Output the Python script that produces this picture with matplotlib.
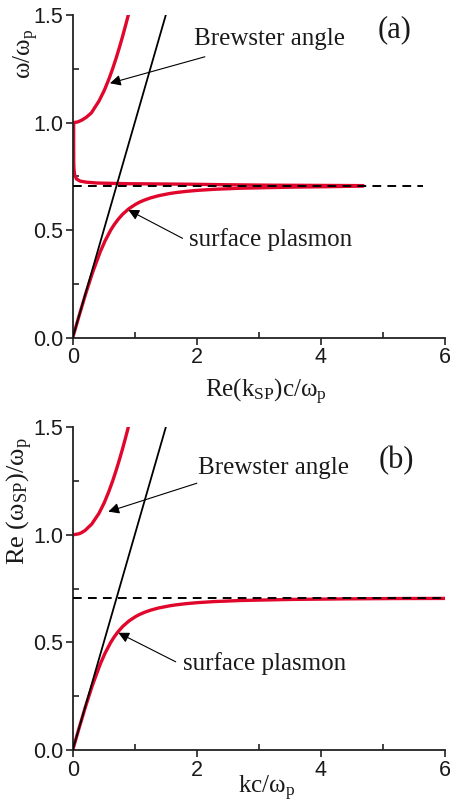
import matplotlib
matplotlib.use("Agg")
import matplotlib.pyplot as plt
from matplotlib.ticker import MultipleLocator

plt.rcParams['mathtext.fontset'] = 'custom'
plt.rcParams['mathtext.rm'] = 'Liberation Serif'
plt.rcParams['mathtext.it'] = 'Liberation Serif:italic'

# ---------------- data ----------------
# panel (a)
upper_a_x = [0.015, 0.08, 0.15, 0.22, 0.30, 0.423, 0.509, 0.580, 0.643, 0.700, 0.753, 0.803, 0.850, 0.896]
upper_a_y = [1.0, 1.003, 1.012, 1.025, 1.045, 1.10, 1.15, 1.20, 1.25, 1.30, 1.35, 1.40, 1.45, 1.50]

back_a_x = [0.015, 0.015, 0.016, 0.02, 0.03, 0.06, 0.12, 0.22, 0.40, 0.87, 1.50, 1.90, 2.50, 3.20, 4.00, 4.68]
back_a_y = [1.0, 0.90, 0.82, 0.785, 0.758, 0.738, 0.728, 0.723, 0.719, 0.716, 0.7145, 0.7135, 0.711, 0.709, 0.708, 0.707]

lower_a_x = [0, 0.1005, 0.2043, 0.316, 0.4446, 0.521, 0.612, 0.667, 0.731, 0.808, 0.907, 1.012, 1.077,
             1.157, 1.255, 1.382, 1.556, 1.672, 1.818, 2.012, 2.284, 2.712, 3.535, 4.10, 4.68]
lower_a_y = [0, 0.1, 0.2, 0.3, 0.4, 0.45, 0.5, 0.525, 0.55, 0.575, 0.6, 0.62, 0.63,
             0.64, 0.65, 0.66, 0.67, 0.675, 0.68, 0.685, 0.69, 0.695, 0.70, 0.702, 0.705]

# panel (b)
upper_b_x = [0, 0.0997, 0.14, 0.197, 0.306, 0.423, 0.509, 0.580, 0.643, 0.700, 0.753, 0.803, 0.850, 0.896]
upper_b_y = [1.0, 1.005, 1.01, 1.02, 1.05, 1.10, 1.15, 1.20, 1.25, 1.30, 1.35, 1.40, 1.45, 1.50]

lower_b_x = [0, 0.1005, 0.2043, 0.316, 0.4446, 0.521, 0.612, 0.667, 0.731, 0.808, 0.907, 1.012, 1.077,
             1.157, 1.255, 1.382, 1.556, 1.672, 1.818, 2.012, 2.284, 2.712, 3.535, 4.388, 5.20, 6.0]
lower_b_y = [0, 0.1, 0.2, 0.3, 0.4, 0.45, 0.5, 0.525, 0.55, 0.575, 0.6, 0.62, 0.63,
             0.64, 0.65, 0.66, 0.67, 0.675, 0.68, 0.685, 0.69, 0.695, 0.70, 0.7025, 0.704, 0.7046]

light_x = [0, 1.5]
light_y = [0, 1.5]

asym_y = 0.707
asym_a_x = [0, 5.65]
asym_b_x = [0, 6.0]

xticks = [0, 2, 4, 6]
yticks = [0.0, 0.5, 1.0, 1.5]

RED = '#E1062C'
TXT = '#1a1a1a'
SERIF = ['Liberation Serif', 'DejaVu Serif']
SANS = ['Liberation Sans', 'DejaVu Sans']

fig = plt.figure(figsize=(4.5, 8.05), dpi=100)
ax_a = fig.add_axes([0.1616, 0.5805, 0.8273, 0.4008])
ax_b = fig.add_axes([0.1616, 0.0683, 0.8273, 0.4009])


def style(ax):
    ax.set_xlim(0, 6)
    ax.set_ylim(0, 1.5)
    for s in ['top', 'right']:
        ax.spines[s].set_visible(False)
    for s in ['left', 'bottom']:
        ax.spines[s].set_linewidth(1.3)
        ax.spines[s].set_color('#222222')
    ax.set_xticks(xticks)
    ax.set_yticks(yticks)
    ax.set_xticklabels([str(v) for v in xticks])
    ax.set_yticklabels(['%.1f' % v for v in yticks])
    ax.xaxis.set_minor_locator(MultipleLocator(1))
    ax.yaxis.set_minor_locator(MultipleLocator(0.25))
    ax.tick_params(which='major', direction='out', length=5, width=1.2, labelsize=15.5,
                   colors='#222222', pad=2)
    ax.tick_params(which='minor', direction='in', length=4, width=1.2, colors='#222222')
    for lab in ax.get_xticklabels() + ax.get_yticklabels():
        lab.set_family(SANS)
        lab.set_color(TXT)


# ---------------- panel (a) ----------------
ax = ax_a
style(ax)
ax.plot(upper_a_x, upper_a_y, color=RED, lw=2.4, zorder=2, solid_capstyle='round')
ax.plot(back_a_x, back_a_y, color=RED, lw=2.4, zorder=2, solid_capstyle='round')
ax.plot(lower_a_x, lower_a_y, color=RED, lw=2.4, zorder=2, solid_capstyle='round')
ax.plot(light_x, light_y, color='black', lw=1.3, zorder=3)
ax.plot(asym_a_x, [asym_y, asym_y], color='black', lw=1.4, ls=(0, (4.5, 3.2)), zorder=4)

ax.text(1.96, 1.387, 'Brewster angle', family=SERIF, fontsize=18, color=TXT, va='center', ha='left')
ax.annotate('', xy=(0.60, 1.183), xytext=(2.13, 1.306),
            arrowprops=dict(arrowstyle='-|>', lw=0.8, color='black', mutation_scale=16,
                            shrinkA=0, shrinkB=0))
ax.text(1.88, 0.457, 'surface plasmon', family=SERIF, fontsize=18, color=TXT, va='center', ha='left')
ax.annotate('', xy=(0.896, 0.594), xytext=(1.77, 0.462),
            arrowprops=dict(arrowstyle='-|>', lw=0.8, color='black', mutation_scale=16,
                            shrinkA=0, shrinkB=0))
ax.text(5.19, 1.43, '(a)', family=SERIF, fontsize=22, color=TXT, va='center', ha='center')

ax.set_xlabel('Re(k$_{\\mathrm{SP}}$)c/ω$_{\\mathrm{p}}$', family=SERIF, fontsize=18, color=TXT)
ax.xaxis.set_label_coords(0.52, -0.12)
ax.set_ylabel('ω/ω$_{\\mathrm{p}}$', family=SERIF, fontsize=18, color=TXT)
ax.yaxis.set_label_coords(-0.085, 0.88)

# ---------------- panel (b) ----------------
ax = ax_b
style(ax)
ax.plot(upper_b_x, upper_b_y, color=RED, lw=2.4, zorder=2, solid_capstyle='round')
ax.plot(lower_b_x, lower_b_y, color=RED, lw=2.4, zorder=2, solid_capstyle='round')
ax.plot(light_x, light_y, color='black', lw=1.3, zorder=3)
ax.plot(asym_b_x, [asym_y, asym_y], color='black', lw=1.4, ls=(0, (4.5, 3.2)), zorder=4)

ax.text(2.02, 1.31, 'Brewster angle', family=SERIF, fontsize=18, color=TXT, va='center', ha='left')
ax.annotate('', xy=(0.574, 1.108), xytext=(2.0, 1.24),
            arrowprops=dict(arrowstyle='-|>', lw=0.8, color='black', mutation_scale=16,
                            shrinkA=0, shrinkB=0))
ax.text(1.77, 0.403, 'surface plasmon', family=SERIF, fontsize=18, color=TXT, va='center', ha='left')
ax.annotate('', xy=(0.735, 0.545), xytext=(1.66, 0.41),
            arrowprops=dict(arrowstyle='-|>', lw=0.8, color='black', mutation_scale=16,
                            shrinkA=0, shrinkB=0))
ax.text(5.22, 1.343, '(b)', family=SERIF, fontsize=22, color=TXT, va='center', ha='center')

ax.set_xlabel('kc/ω$_{\\mathrm{p}}$', family=SERIF, fontsize=18, color=TXT)
ax.xaxis.set_label_coords(0.52, -0.075)
ax.set_ylabel('Re (ω$_{\\mathrm{SP}}$)/ω$_{\\mathrm{p}}$', family=SERIF, fontsize=19, color=TXT)
ax.yaxis.set_label_coords(-0.10, 0.77)

fig.savefig('out.png', dpi=100)
